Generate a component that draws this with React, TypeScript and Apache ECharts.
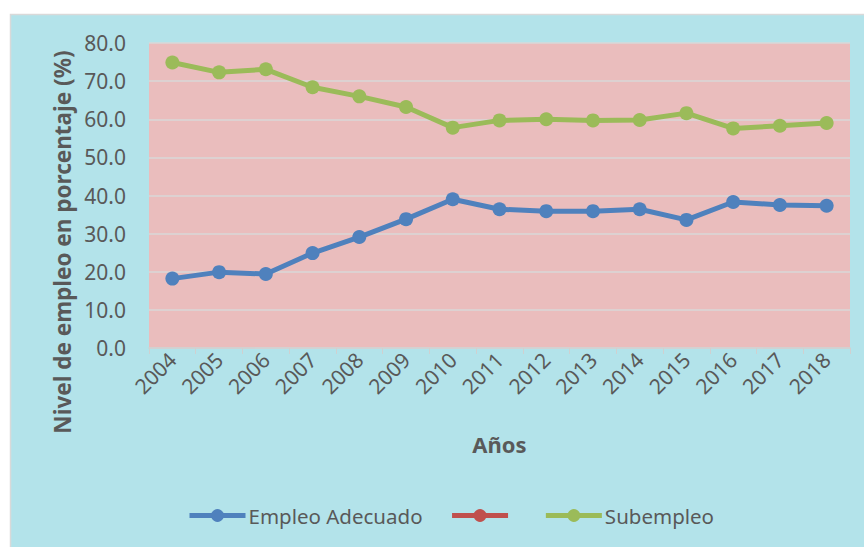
import React, { useEffect, useRef } from "react";
import * as echarts from "echarts";

const years = ["2004", "2005", "2006", "2007", "2008", "2009", "2010", "2011", "2012", "2013", "2014", "2015", "2016", "2017", "2018"];
const empleoAdecuado = [18.2, 19.9, 19.4, 24.9, 29.1, 33.8, 39.0, 36.4, 35.9, 35.9, 36.4, 33.6, 38.3, 37.5, 37.3];
const subempleo = [74.9, 72.3, 73.1, 68.4, 66.0, 63.2, 57.8, 59.7, 60.0, 59.7, 59.8, 61.6, 57.6, 58.3, 59.0];
const otros: number[] = [];
const seriesNames = ["Empleo Adecuado", " ", "Subempleo"];
const yTitle = "Nivel de empleo en porcentaje (%)";
const xTitle = "Años";

const FONT = "Noto Sans";
const TXT = "#595959";

export default function App() {
  const ref = useRef<HTMLDivElement>(null);
  useEffect(() => {
    document.body.style.margin = "0";
    const chart = echarts.init(ref.current!, undefined, { renderer: "svg" });
    const lineSeries = (name: string, data: number[], color: string) => ({
      name,
      type: "line",
      data,
      symbol: "circle",
      symbolSize: 14,
      itemStyle: { color },
      lineStyle: { color, width: 5 },
    });
    chart.setOption({
      animation: false,
      backgroundColor: "#ffffff",
      textStyle: { fontFamily: FONT },
      graphic: [
        {
          type: "rect",
          z: -10,
          shape: { x: 10.5, y: 14.5, width: 860, height: 540 },
          style: { fill: "#b3e3ea", stroke: "#d9d9d9", lineWidth: 1.5 },
          silent: true,
        },
        {
          type: "text",
          x: 62,
          y: 242,
          rotation: Math.PI / 2,
          style: {
            text: yTitle,
            fill: TXT,
            font: `bold 22.5px "${FONT}"`,
            align: "center",
            verticalAlign: "middle",
          },
          silent: true,
        },
      ],
      grid: {
        left: 149,
        top: 43,
        right: 14,
        bottom: 199,
        show: true,
        backgroundColor: "#eabdbd",
        borderWidth: 0,
      },
      legend: {
        left: 182,
        top: 500,
        itemWidth: 56,
        itemHeight: 16,
        itemGap: 27,
        lineStyle: { width: 5 },
        textStyle: { fontFamily: FONT, fontSize: 20.5, color: TXT, padding: [0, 0, 0, -2] },
        data: seriesNames,
      },
      xAxis: {
        type: "category",
        data: years,
        boundaryGap: true,
        axisLine: { lineStyle: { color: "#d0d0d0", width: 1.5 } },
        axisTick: { show: true, length: 6, lineStyle: { color: "#d0d0d0" } },
        axisLabel: { rotate: 45, fontSize: 21, color: TXT, margin: 8, interval: 0, fontFamily: FONT },
        name: xTitle,
        nameLocation: "middle",
        nameGap: 85,
        nameTextStyle: { fontSize: 22, fontWeight: "bold", color: TXT, fontFamily: FONT },
      },
      yAxis: {
        type: "value",
        min: 0,
        max: 80,
        interval: 10,
        axisLine: { show: false },
        axisTick: { show: false },
        axisLabel: {
          fontSize: 21,
          color: TXT,
          margin: 23,
          fontFamily: FONT,
          formatter: (v: number) => v.toFixed(1),
        },
        splitLine: { lineStyle: { color: "#d9d9d9", width: 1.5 } },
      },
      series: [
        lineSeries(seriesNames[0], empleoAdecuado, "#4f81bd"),
        lineSeries(seriesNames[1], otros, "#c0504d"),
        lineSeries(seriesNames[2], subempleo, "#9bbb59"),
      ],
    });
    return () => chart.dispose();
  }, []);
  return <div ref={ref} style={{ width: 864, height: 547 }} />;
}
